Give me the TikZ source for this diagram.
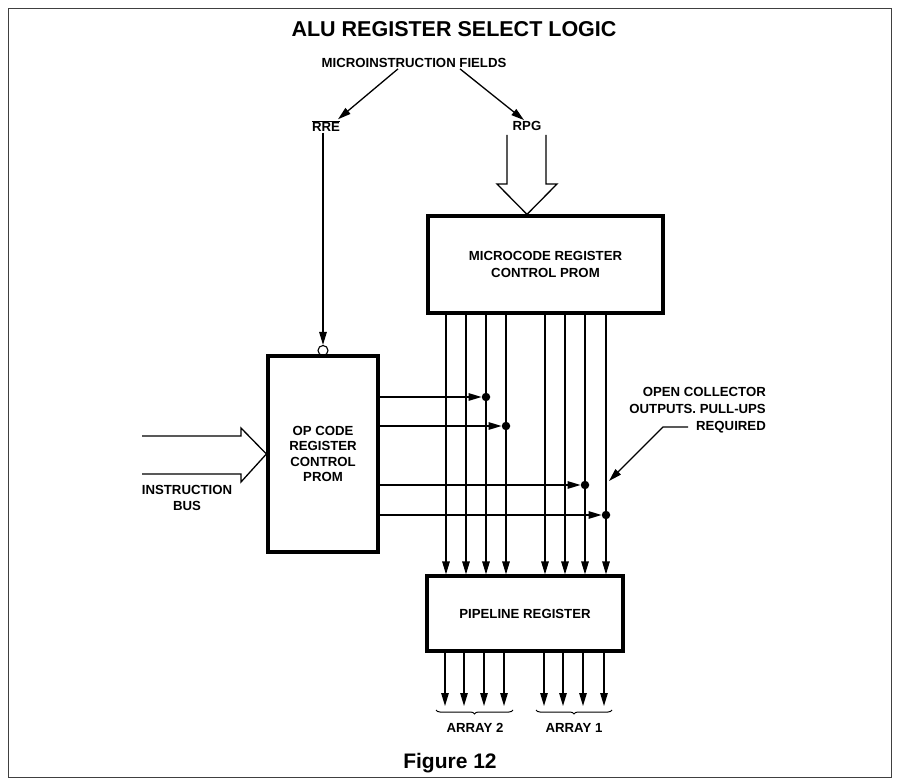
\documentclass[tikz,border=0pt]{standalone}
\usepackage{fontspec}
\setmainfont{Liberation Sans}
\usetikzlibrary{arrows.meta, decorations.pathreplacing}

\begin{document}
\begin{tikzpicture}[x=1pt, y=-1pt,
    lbl/.style={font=\bfseries\fontsize{13.2}{15.5}\selectfont, align=center, inner sep=1pt},
    box/.style={draw, rectangle, line width=3.2pt, align=center, font=\bfseries\fontsize{13.2}{15.5}\selectfont},
    sig/.style={-{Triangle[length=13pt, width=7.5pt]}, line width=1.3pt},
    dot/.style={circle, fill, inner sep=0pt, minimum size=8.5pt}]
    \useasboundingbox (0,0) rectangle (898,783);
    % Frame
    \draw[line width=0.8pt, black!75] (8,8) rectangle (891,777);

    % Titles
    \node[font=\bfseries\fontsize{21.5}{24}\selectfont] (title) at (454,29) {ALU REGISTER SELECT LOGIC};
    \node[font=\bfseries\fontsize{21}{24}\selectfont] (fig) at (450,763) {Figure 12};

    % Nodes (field labels)
    \node[lbl] (fields) at (414,63) {MICROINSTRUCTION FIELDS};
    \node[lbl] (rre) at (326,126) {$\overline{\hbox{RRE}}$};
    \node[lbl] (rpg) at (527,126) {RPG};

    % Nodes (PROMs and register)
    \node[box, minimum width=110, minimum height=196] (opcode) at (323,454) {OP CODE\\REGISTER\\CONTROL\\PROM};
    \node[box, minimum width=235, minimum height=97, font=\bfseries\fontsize{13.2}{17}\selectfont] (microcode) at (545.5,264.5) {MICROCODE REGISTER\\CONTROL PROM};
    \node[box, minimum width=196, minimum height=75] (pipeline) at (525,613.5) {PIPELINE REGISTER};
    \node[draw, circle, line width=1.1pt, inner sep=0pt, minimum size=10pt] (bubble) at (323,350.5) {};

    % Other labels
    \node[lbl] (bus) at (187,498) {INSTRUCTION\\BUS};
    \node[lbl, align=right, anchor=east, font=\bfseries\fontsize{13.2}{17}\selectfont] (note) at (767,410) {OPEN COLLECTOR\\OUTPUTS. PULL-UPS\\REQUIRED};
    \node[lbl] (array2) at (475,728) {ARRAY 2};
    \node[lbl] (array1) at (574,728) {ARRAY 1};

    % Arrows from the fields
    \draw[sig] ([xshift=-16pt]fields.south) -- ([xshift=12pt]rre.north);
    \draw[sig] ([xshift=46pt]fields.south) -- ([xshift=-3pt]rpg.north);
    \draw[sig] (rre.south -| bubble.north) -- (bubble.north);

    % Hollow bus arrows
    \draw[line width=1.3pt, line join=miter] (507,135) -- (507,184) -- (497,184) -- (rpg.south |- microcode.north) -- (557,184) -- (546,184) -- (546,135);
    \draw[line width=1.3pt, line join=miter] (142,436) -- (241,436) -- (241,428) -- (opcode.west) -- (241,482) -- (241,474) -- (142,474);

    % PROM outputs into the pipeline register
    \foreach \x in {446,466,486,506,545,565,585,606}
        \draw[sig] (microcode.south -| \x,0) -- (pipeline.north -| \x,0);

    % Op code outputs (wired onto the open collector lines)
    \node[dot] (d1) at (486,397) {};
    \node[dot] (d2) at (506,426) {};
    \node[dot] (d3) at (585,485) {};
    \node[dot] (d4) at (606,515) {};
    \foreach \d in {d1,d2,d3,d4}
        \draw[sig] (opcode.east |- \d) -- (\d.west);

    % Pipeline outputs
    \foreach \x in {445,464,484,504,544,563,583,604}
        \draw[sig] (pipeline.south -| \x,0) -- (\x,706);

    % Braces
    \draw[line width=1pt, decorate, decoration={brace, mirror, amplitude=4pt}] (436,710) -- (513,710);
    \draw[line width=1pt, decorate, decoration={brace, mirror, amplitude=4pt}] (536,710) -- (612,710);

    % Note leader
    \coordinate (notestart) at (688,427);
    \coordinate (notebend) at (663,427);
    \coordinate (notetip) at (609,481);
    \draw[sig] (notestart) -- (notebend) -- (notetip);
\end{tikzpicture}
\end{document}
